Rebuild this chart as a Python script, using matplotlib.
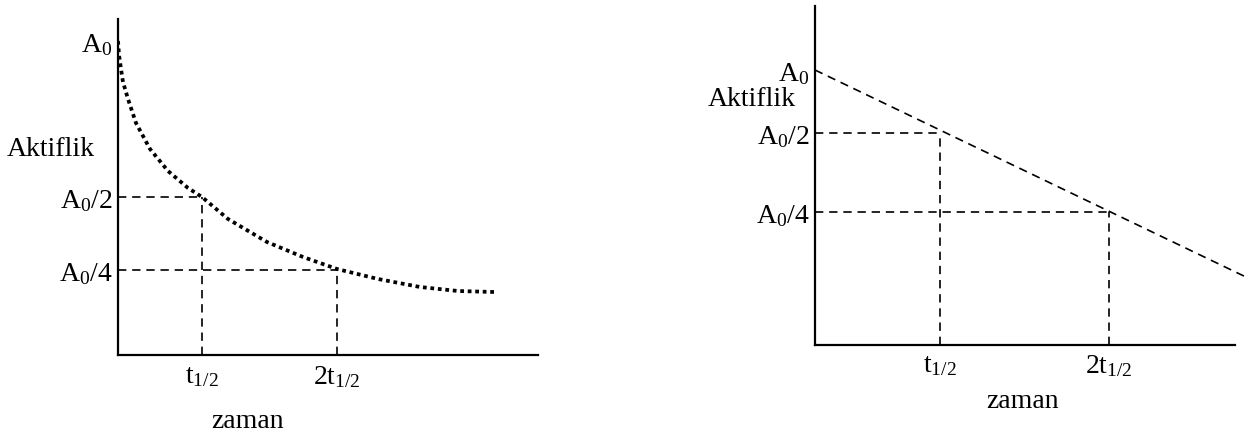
import matplotlib
matplotlib.use("Agg")
import matplotlib.pyplot as plt

plt.rcParams['font.family'] = ['Liberation Serif', 'DejaVu Serif']
plt.rcParams['mathtext.fontset'] = 'custom'
plt.rcParams['mathtext.rm'] = 'Liberation Serif'
plt.rcParams['mathtext.it'] = 'Liberation Serif'

W, H = 1248, 435

# left panel: decay curve
decay_t = [0, 1, 3, 5, 10, 18, 32, 50, 70, 84, 110, 149, 185, 219, 260, 302, 340, 376]
decay_a = [314, 300, 286, 273, 256, 232, 206, 184, 167, 158, 136, 113, 98, 86, 76, 68, 64, 63]
left_yticks = [314, 158, 85]
left_xticks = [84, 219]

# right panel: straight line
lin_t = [0, 433]
lin_a = [275, 67]
right_yticks = [275, 212, 133]
right_xticks = [125, 294]

ylabels = ['A$_0$', 'A$_0$/2', 'A$_0$/4']
xlabels = ['t$_{1/2}$', '2t$_{1/2}$']

FS = 20
DASH = (0, (5, 3.5))

fig = plt.figure(figsize=(W / 100, H / 100), dpi=100)


def box(x0, x1, ytop, ybot):
    return [x0 / W, 1 - ybot / H, (x1 - x0) / W, (ybot - ytop) / H]


def setup(ax, xmax, ymax):
    ax.set_xlim(0, xmax)
    ax.set_ylim(0, ymax)
    for s in ['top', 'right']:
        ax.spines[s].set_visible(False)
    for s in ['left', 'bottom']:
        ax.spines[s].set_linewidth(1.6)
    ax.tick_params(length=0, labelsize=FS)


# ---- left ----
ax1 = fig.add_axes(box(118, 538, 20, 356))
setup(ax1, 420, 336)
ax1.plot(decay_t, decay_a, color='black', lw=2.7, linestyle=(0, (1, 1)),
         dash_capstyle='butt')
for tx, ty in zip(left_xticks, left_yticks[1:]):
    ax1.plot([0, tx], [ty, ty], color='black', lw=1.2, linestyle=DASH)
    ax1.plot([tx, tx], [0, ty], color='black', lw=1.2, linestyle=DASH)
ax1.set_yticks(left_yticks, ylabels)
ax1.set_xticks(left_xticks, xlabels)
ax1.tick_params(axis='y', pad=4)
ax1.tick_params(axis='x', pad=6)
fig.text(51 / W, 1 - 150 / H, 'Aktiflik', fontsize=FS, ha='center', va='center')
fig.text(248 / W, 1 - 422 / H, 'zaman', fontsize=FS, ha='center', va='center')

# ---- right ----
ax2 = fig.add_axes(box(815, 1248, 7, 346))
setup(ax2, 433, 339)
ax2.spines['bottom'].set_bounds(0, 420)
ax2.plot(lin_t, lin_a, color='black', lw=1.2, linestyle=DASH, clip_on=False)
for tx, ty in zip(right_xticks, right_yticks[1:]):
    ax2.plot([0, tx], [ty, ty], color='black', lw=1.2, linestyle=DASH)
    ax2.plot([tx, tx], [0, ty], color='black', lw=1.2, linestyle=DASH)
ax2.set_yticks(right_yticks, ylabels)
ax2.set_xticks(right_xticks, xlabels)
ax2.tick_params(axis='y', pad=4)
ax2.tick_params(axis='x', pad=5)
fig.text(752 / W, 1 - 100 / H, 'Aktiflik', fontsize=FS, ha='center', va='center')
fig.text(1023 / W, 1 - 402 / H, 'zaman', fontsize=FS, ha='center', va='center')

fig.savefig('out.png', dpi=100)
